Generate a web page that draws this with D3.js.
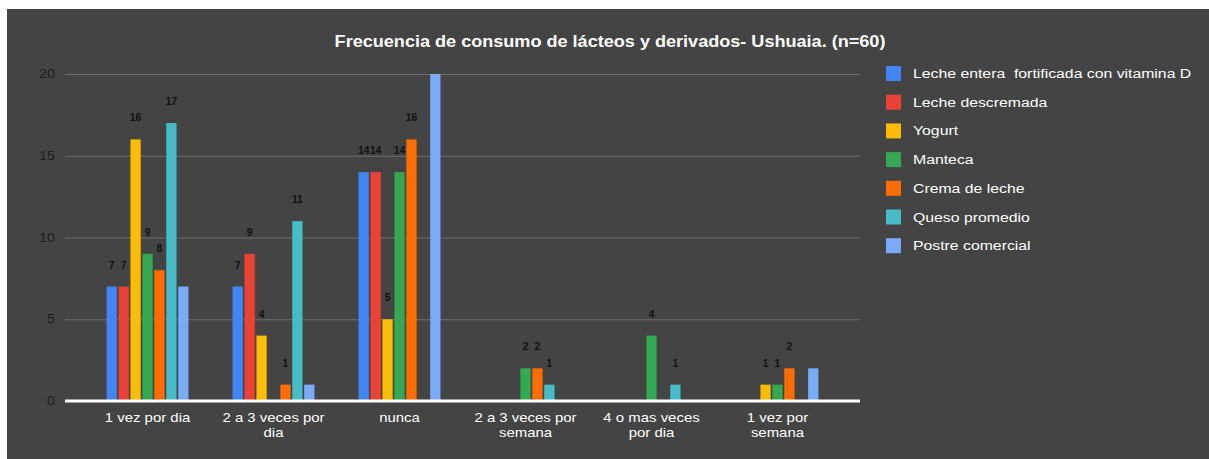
<!DOCTYPE html>
<html>
<head>
<meta charset="utf-8">
<script src="https://cdn.jsdelivr.net/npm/d3@7"></script>
<style>
  html, body { margin: 0; padding: 0; background: #ffffff; }
  svg { display: block; font-family: "Liberation Sans", Arial, sans-serif; }
  text { white-space: pre; }
</style>
</head>
<body>
<svg id="chart" width="1209" height="459"></svg>
<script>
// Frequency categories (x axis)
const categories = [
  ["1 vez por dia"],
  ["2 a 3 veces por", "dia"],
  ["nunca"],
  ["2 a 3 veces por", "semana"],
  ["4 o mas veces", "por dia"],
  ["1 vez por", "semana"]
];

// Series names and counts per category
const seriesNames = [
  "Leche entera  fortificada con vitamina D",
  "Leche descremada",
  "Yogurt",
  "Manteca",
  "Crema de leche",
  "Queso promedio",
  "Postre comercial"
];
const lecheEntera     = [7, 7, 14, 0, 0, 0];
const lecheDescremada = [7, 9, 14, 0, 0, 0];
const yogurt          = [16, 4, 5, 0, 0, 1];
const manteca         = [9, 0, 14, 2, 4, 1];
const cremaDeLeche    = [8, 1, 16, 2, 0, 2];
const quesoPromedio   = [17, 11, 0, 1, 1, 0];
const postreComercial = [7, 1, 20, 0, 0, 2];
const seriesValues = [lecheEntera, lecheDescremada, yogurt, manteca, cremaDeLeche, quesoPromedio, postreComercial];
const seriesColors = ["#4285F4", "#EA4335", "#FBBC04", "#34A853", "#FF6D01", "#46BDC6", "#7BAAF7"];
// Series whose values are printed above the bars
const labelled = [true, true, true, true, true, true, false];

const yTicks = [0, 5, 10, 15, 20];
const title = "Frecuencia de consumo de lácteos y derivados- Ushuaia. (n=60)";

const svg = d3.select("#chart");

// text drawn slightly wide, anchored at (x, y)
function wideText(parent, x, y, sx) {
  return parent.append("text").attr("transform", `translate(${x},${y}) scale(${sx},1)`);
}

// dark panel
svg.append("rect").attr("x", 7).attr("y", 9).attr("width", 1202).attr("height", 450).attr("fill", "#444444");

const plot = { left: 65, right: 860, top: 74, bottom: 401 };

const y = d3.scaleLinear().domain([0, 20]).range([plot.bottom, plot.top]);
const x0 = d3.scaleBand().domain(d3.range(categories.length))
  .range([plot.left, plot.right]).paddingInner(0.35).paddingOuter(0.33);
const x1 = d3.scaleBand().domain(d3.range(seriesNames.length))
  .range([0, x0.bandwidth()]).paddingInner(0.14);

// gridlines
const yAxis = d3.axisLeft(y).tickValues(yTicks).tickSize(-(plot.right - plot.left)).tickFormat("");
const gy = svg.append("g").attr("transform", `translate(${plot.left},0)`).call(yAxis);
gy.select(".domain").remove();
gy.selectAll(".tick line").attr("stroke", "#6f6f6f").attr("stroke-width", 1);

// tick labels
yTicks.forEach(t => {
  wideText(svg, 55, y(t) + 4, 1.2)
    .attr("text-anchor", "end").attr("font-size", 12).attr("fill", "#1e1e1e").text(t);
});

// bars
const groups = svg.append("g").selectAll("g").data(categories).join("g")
  .attr("transform", (d, i) => `translate(${x0(i)},0)`);

seriesValues.forEach((vals, s) => {
  groups.append("rect")
    .attr("x", x1(s))
    .attr("width", x1.bandwidth())
    .attr("y", (d, i) => y(vals[i]))
    .attr("height", (d, i) => y(0) - y(vals[i]))
    .attr("fill", seriesColors[s]);
});

// value labels
seriesValues.forEach((vals, s) => {
  if (!labelled[s]) return;
  vals.forEach((v, i) => {
    if (v <= 0) return;
    wideText(svg, x0(i) + x1(s) + x1.bandwidth() / 2, y(v) - 18, 1.0)
      .attr("text-anchor", "middle")
      .attr("font-size", 10.3)
      .attr("font-weight", "bold")
      .attr("fill", "#111")
      .text(v);
  });
});

// baseline
svg.append("line").attr("x1", plot.left).attr("x2", plot.right)
  .attr("y1", y(0)).attr("y2", y(0)).attr("stroke", "#ffffff").attr("stroke-width", 3);

// category labels
categories.forEach((lines, i) => {
  const t = wideText(svg, x0(i) + x0.bandwidth() / 2, 422, 1.15)
    .attr("text-anchor", "middle")
    .attr("font-size", 13)
    .attr("fill", "#ffffff");
  lines.forEach((ln, k) => {
    t.append("tspan").attr("x", 0).attr("dy", k === 0 ? 0 : 15).text(ln);
  });
});

// title
wideText(svg, 610, 47, 1.13).attr("text-anchor", "middle")
  .attr("font-size", 16).attr("font-weight", "bold").attr("fill", "#ffffff").text(title);

// legend
const legend = svg.append("g").attr("transform", "translate(886,0)");
seriesNames.forEach((name, s) => {
  const cy = 73 + s * 28.7;
  legend.append("rect").attr("x", 0).attr("y", cy - 7).attr("width", 15).attr("height", 15)
    .attr("fill", seriesColors[s]);
  wideText(legend, 27, cy + 5, 1.17).attr("font-size", 13.5)
    .attr("fill", "#ffffff").text(name);
});
</script>
</body>
</html>
